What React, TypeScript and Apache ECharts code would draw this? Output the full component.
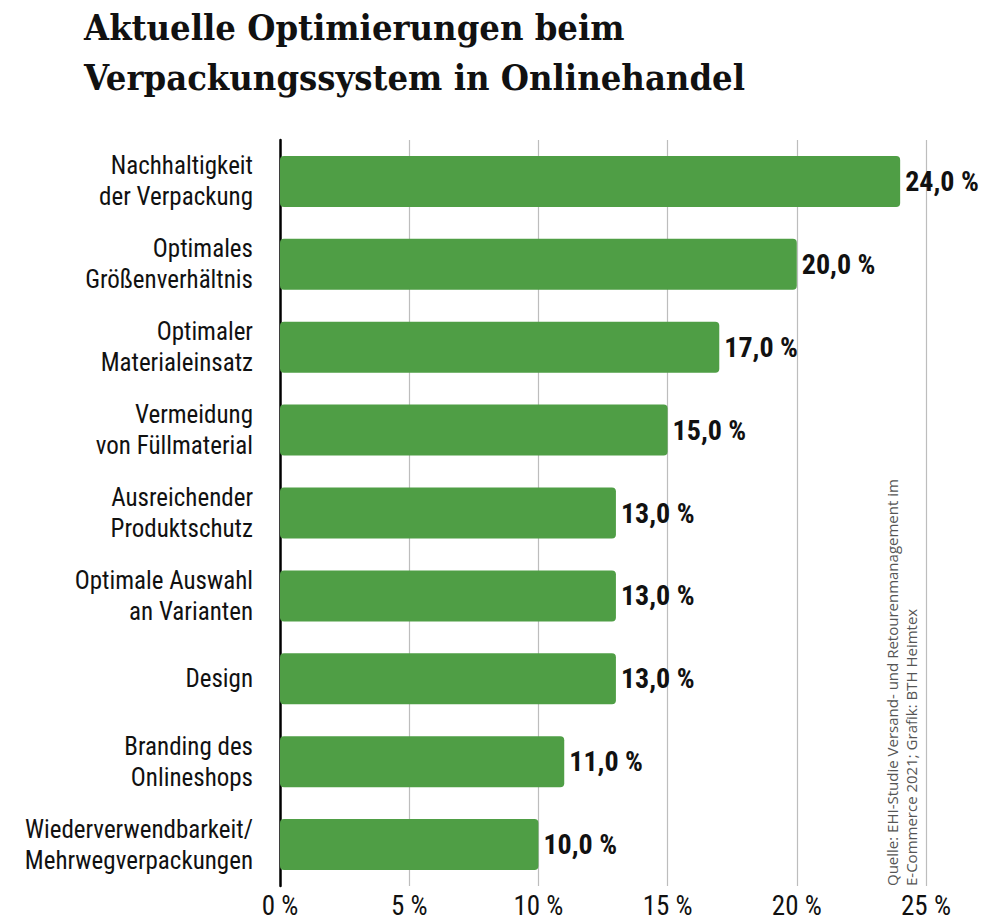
import React, { useEffect, useRef } from "react";
import * as echarts from "echarts";

const categories = [
  "Nachhaltigkeit\nder Verpackung",
  "Optimales\nGrößenverhältnis",
  "Optimaler\nMaterialeinsatz",
  "Vermeidung\nvon Füllmaterial",
  "Ausreichender\nProduktschutz",
  "Optimale Auswahl\nan Varianten",
  "Design",
  "Branding des\nOnlineshops",
  "Wiederverwendbarkeit/\nMehrwegverpackungen",
];
const values = [24, 20, 17, 15, 13, 13, 13, 11, 10];
const titleText = "Aktuelle Optimierungen beim\nVerpackungssystem in Onlinehandel";
const sourceText =
  "Quelle: EHI-Studie Versand- und Retourenmanagement im\nE-Commerce 2021; Grafik: BTH Heimtex";

const NARROW = '"Liberation Sans Narrow", "Roboto Condensed", "DejaVu Sans Condensed", sans-serif';

export default function App() {
  const ref = useRef<HTMLDivElement>(null);
  useEffect(() => {
    document.body.style.margin = "0";
    const chart = echarts.init(ref.current!, null, { renderer: "svg" });
    chart.setOption({
      animation: false,
      backgroundColor: "#ffffff",
      grid: { left: 280, top: 140, width: 646, height: 746, containLabel: false },
      xAxis: {
        type: "value",
        min: 0,
        max: 25,
        interval: 5,
        axisLine: { show: false },
        axisTick: { show: false },
        splitLine: { show: true, lineStyle: { color: "#bdbdbd", width: 1.2 } },
        axisLabel: {
          formatter: "{value} %",
          fontFamily: NARROW,
          fontSize: 27,
          lineHeight: 28,
          color: "#111",
          margin: 6,
        },
      },
      yAxis: {
        type: "category",
        data: categories,
        inverse: true,
        axisLine: { show: true, lineStyle: { color: "#000", width: 2.5 } },
        axisTick: { show: false },
        axisLabel: {
          fontFamily: NARROW,
          fontSize: 25,
          lineHeight: 31,
          color: "#111",
          margin: 27,
          align: "right",
        },
      },
      series: [
        {
          type: "bar",
          data: values,
          barWidth: 51,
          itemStyle: { color: "#4f9e45", borderRadius: 4 },
          label: {
            show: true,
            position: "right",
            distance: 5,
            formatter: (p: any) => p.value.toFixed(1).replace(".", ",") + " %",
            fontFamily: NARROW,
            fontWeight: "bold",
            fontSize: 28,
            color: "#111",
          },
        },
      ],
      graphic: [
        {
          type: "text",
          left: 84,
          top: 2,
          style: {
            text: titleText,
            font: 'bold 36px "DejaVu Serif Condensed", "DejaVu Serif", serif',
            lineHeight: 50,
            fill: "#111",
          },
        },
        {
          type: "text",
          x: 882,
          y: 886,
          rotation: Math.PI / 2,
          style: {
            text: sourceText,
            font: '15px "Open Sans", sans-serif',
            lineHeight: 19,
            fill: "#555",
            textAlign: "left",
            textVerticalAlign: "top",
          },
        },
      ],
    });
    return () => chart.dispose();
  }, []);
  return <div ref={ref} style={{ width: 1000, height: 923 }} />;
}
